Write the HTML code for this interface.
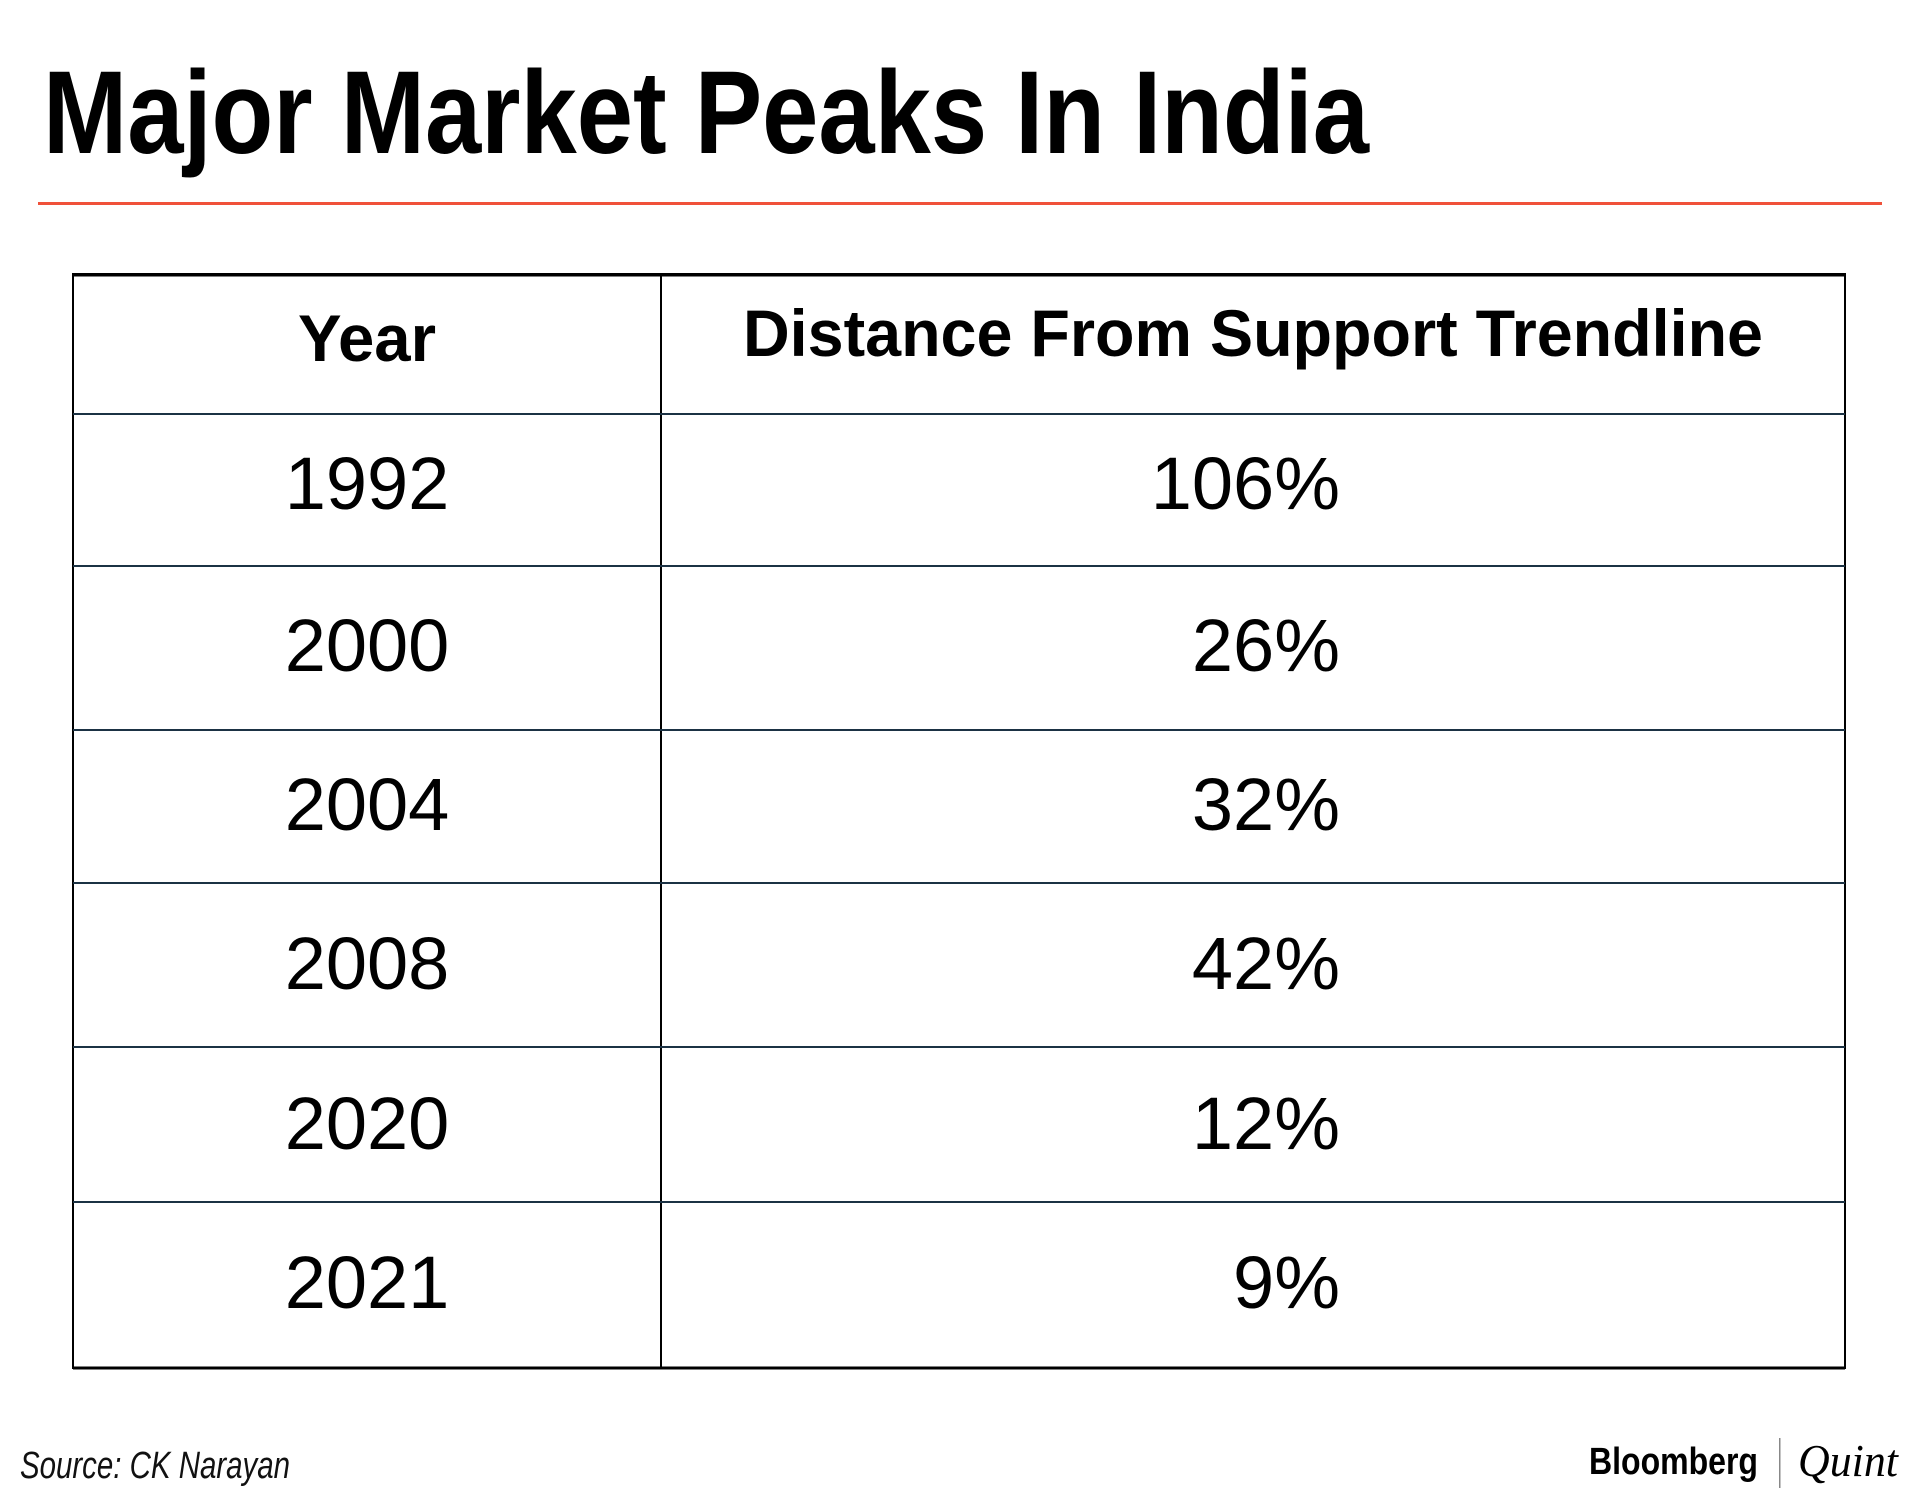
<!DOCTYPE html>
<html><head><meta charset="utf-8"><style>
html,body{margin:0;padding:0;background:#fff;}
svg{display:block;}
</style></head><body>
<svg width="1920" height="1498" viewBox="0 0 1920 1498" xmlns="http://www.w3.org/2000/svg">
<text x="43" y="153" font-family="Liberation Sans, sans-serif" font-weight="bold" font-size="118" textLength="1326" lengthAdjust="spacingAndGlyphs" fill="#000">Major Market Peaks In India</text>
<rect x="38" y="202" width="1844" height="3" fill="#f0513a"/>
<g id="table"></g>
<text x="20" y="1478" font-family="Liberation Sans, sans-serif" font-style="italic" font-size="38" textLength="270" lengthAdjust="spacingAndGlyphs" fill="#111">Source: CK Narayan</text>
<text x="1589" y="1474" font-family="Liberation Sans, sans-serif" font-weight="bold" font-size="38" textLength="169" lengthAdjust="spacingAndGlyphs" fill="#000">Bloomberg</text>
<rect x="1779" y="1438" width="1.5" height="50" fill="#888"/>
<text x="1798" y="1476" font-family="Liberation Serif, serif" font-style="italic" font-size="46" textLength="100" lengthAdjust="spacingAndGlyphs" fill="#000">Quint</text>
</svg>
<script>
const years = ["1992","2000","2004","2008","2020","2021"];
const distances = ["106%","26%","32%","42%","12%","9%"];
const headers = ["Year","Distance From Support Trendline"];
const NS="http://www.w3.org/2000/svg";
const g=document.getElementById('table');
function mk(tag,attrs,txt){const e=document.createElementNS(NS,tag);for(const k in attrs)e.setAttribute(k,attrs[k]);if(txt!==undefined)e.textContent=txt;g.appendChild(e);return e;}
const L=73,R=1845,T=274,B=1368,C=661,H=414;
const rowEdges=[414,566,730,883,1047,1202,1368];
const baselines=[509,671,830,989,1149,1308];
let e;
e=mk('rect',{x:L,y:T,width:R-L,height:B-T,fill:'none',stroke:'#000','stroke-width':2});


e=mk('line',{x1:C,y1:T,x2:C,y2:B,stroke:'#000','stroke-width':2});


e=mk('line',{x1:L,y1:T+1,x2:R,y2:T+1,stroke:'#000','stroke-width':3});


e=mk('line',{x1:L,y1:B,x2:R,y2:B,stroke:'#000','stroke-width':3});


for(let i=0;i<rowEdges.length-1;i++){
  e=mk('line',{x1:L,y1:rowEdges[i],x2:R,y2:rowEdges[i],stroke:'#1b3244','stroke-width':2});
  
  
}
e=mk('text',{x:367,y:361,'text-anchor':'middle','font-family':'Liberation Sans, sans-serif','font-weight':'bold','font-size':66,textLength:138,lengthAdjust:'spacingAndGlyphs',fill:'#000'},headers[0]);


e=mk('text',{x:743,y:356,'font-family':'Liberation Sans, sans-serif','font-weight':'bold','font-size':66,textLength:1020,lengthAdjust:'spacingAndGlyphs',fill:'#000'},headers[1]);


for(let i=0;i<years.length;i++){
  e=mk('text',{x:367,y:baselines[i],'text-anchor':'middle','font-family':'Liberation Sans, sans-serif','font-size':74,fill:'#000'},years[i]);
  
  
  e=mk('text',{x:1340,y:baselines[i],'text-anchor':'end','font-family':'Liberation Sans, sans-serif','font-size':74,fill:'#000'},distances[i]);
  
  
}
</script>
</body></html>
